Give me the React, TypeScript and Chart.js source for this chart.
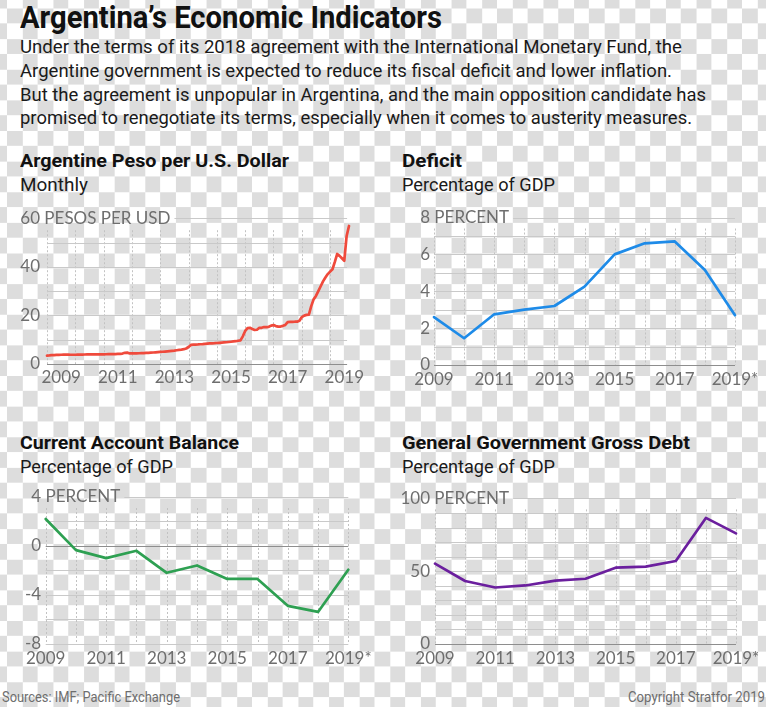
import React, { useEffect, useLayoutEffect, useRef } from 'react';
import { Chart, registerables } from 'chart.js';

Chart.register(...registerables);

// ---------- DATA ----------
const pesoStartYear = 2009;
// Monthly ARS per USD, Jan 2009 .. Sep 2019
const pesoPerUsd = [
  3.45, 3.52, 3.64, 3.69, 3.72, 3.77, 3.81, 3.84, 3.84, 3.82, 3.81, 3.8,
  3.81, 3.86, 3.87, 3.88, 3.91, 3.93, 3.93, 3.94, 3.95, 3.96, 3.97, 3.98,
  3.98, 4.01, 4.04, 4.07, 4.09, 4.1, 4.13, 4.18, 4.3, 4.6, 4.7, 4.35,
  4.35, 4.36, 4.38, 4.42, 4.46, 4.51, 4.56, 4.61, 4.67, 4.73, 4.8, 4.88,
  4.95, 5.03, 5.11, 5.18, 5.27, 5.38, 5.51, 5.67, 5.8, 5.91, 6.09, 6.38,
  7.0, 7.85, 7.95, 8.0, 8.05, 8.13, 8.17, 8.3, 8.42, 8.48, 8.52, 8.56,
  8.64, 8.71, 8.79, 8.87, 8.95, 9.05, 9.17, 9.28, 9.38, 9.55, 9.7, 11.4,
  13.6, 14.8, 14.9, 14.4, 14.0, 14.1, 14.9, 14.9, 15.2, 15.2, 15.3, 15.8,
  16.0, 15.6, 15.4, 15.4, 15.7, 16.1, 17.2, 17.3, 17.3, 17.4, 17.4, 17.8,
  19.3, 19.9, 20.2, 20.3, 23.8, 26.6, 28.0, 30.0, 32.0, 34.0, 35.6, 37.0,
  38.0, 39.0, 42.0, 45.3, 44.5, 43.5, 42.5, 52.7, 56.8,
];
const pesoGridValues = [0, 10, 20, 30, 40, 50, 60];
const pesoTickLabels = [0, 20, 40, 60];
const pesoUnit = 'PESOS PER USD';
const pesoYearLines = [2009, 2010, 2011, 2012, 2013, 2014, 2015, 2016, 2017, 2018, 2019];
const pesoXLabelYears = [2009, 2011, 2013, 2015, 2017, 2019];

const years = [2009, 2010, 2011, 2012, 2013, 2014, 2015, 2016, 2017, 2018, 2019];
const annualTickYears = [2009, 2011, 2013, 2015, 2017, 2019];
const annualTickLabels = ['2009', '2011', '2013', '2015', '2017', '2019*'];

const deficitPct = [2.6, 1.45, 2.75, 3.0, 3.2, 4.25, 6.0, 6.6, 6.7, 5.15, 2.7];
const deficitGridValues = [0, 1, 2, 3, 4, 5, 6, 7, 8];
const deficitTickLabels = [0, 2, 4, 6, 8];

const currentAccountPct = [2.2, -0.35, -1.0, -0.4, -2.2, -1.6, -2.7, -2.7, -4.9, -5.4, -1.95];
const caGridValues = [-8, -6, -4, -2, 0, 2, 4];
const caTickLabels = [-8, -4, 0, 4];

const grossDebtPct = [55.2, 43.3, 38.8, 40.2, 43.5, 44.8, 52.4, 53.1, 57.0, 86.6, 76.0];
const debtGridValues = [0, 10, 20, 30, 40, 50, 60, 70, 80, 90, 100];
const debtTickLabels = [0, 50, 100];
const percentUnit = 'PERCENT';

// ---------- PLUGIN ----------
const gridPlugin = {
  id: 'customGrid',
  beforeDatasetsDraw(chart: any, _args: any, o: any) {
    const { ctx, chartArea: a } = chart;
    const xs = chart.scales.x;
    const ys = chart.scales.y;
    ctx.save();
    ctx.font = '17px Lato, "Open Sans", sans-serif';
    const topVal = o.grid[o.grid.length - 1];
    const botVal = o.grid[0];
    const labelRight = a.left - o.labelGap;
    const numW = ctx.measureText(String(topVal)).width;
    const fullW = ctx.measureText(String(topVal) + ' ' + o.unit).width;
    const topTextEnd = labelRight - numW + fullW;
    const hRight = xs.getPixelForValue(o.hRight);

    // vertical dotted lines
    ctx.strokeStyle = '#c2c2c2';
    ctx.lineWidth = 1;
    ctx.setLineDash([2, 2]);
    const vTop = ys.getPixelForValue(topVal) + o.vTopGap;
    const vBot = ys.getPixelForValue(botVal);
    for (const yr of o.vLines) {
      const px = Math.round(xs.getPixelForValue(yr)) + 0.5;
      ctx.beginPath();
      ctx.moveTo(px, vTop);
      ctx.lineTo(px, vBot);
      ctx.stroke();
    }
    ctx.setLineDash([]);

    // horizontal lines
    for (const v of o.grid) {
      const py = Math.round(ys.getPixelForValue(v)) + 0.5;
      const x0 = v === topVal ? topTextEnd + 4 : a.left;
      ctx.strokeStyle = v === o.zero ? '#8e8e8e' : '#c9c9c9';
      ctx.beginPath();
      ctx.moveTo(x0, py);
      ctx.lineTo(hRight, py);
      ctx.stroke();
    }

    // y labels
    ctx.fillStyle = '#6e6e6e';
    ctx.textBaseline = 'middle';
    for (const v of o.yLabels) {
      const py = ys.getPixelForValue(v);
      ctx.textAlign = 'right';
      ctx.fillText(String(v), labelRight, py);
      if (v === topVal) {
        ctx.textAlign = 'left';
        ctx.fillText(' ' + o.unit, labelRight, py);
      }
    }

    // x labels
    ctx.textAlign = 'center';
    for (let i = 0; i < o.xVals.length; i++) {
      ctx.fillText(o.xTexts[i], xs.getPixelForValue(o.xVals[i]), a.bottom + o.xLabelGap);
    }
    ctx.restore();
  },
};

type LCProps = {
  left: number; top: number; width: number; height: number;
  padding: { left: number; right: number; top: number; bottom: number };
  points: { x: number; y: number }[];
  color: string;
  xMin: number; xMax: number; yMin: number; yMax: number;
  grid: number[]; yLabels: number[]; unit: string; zero: number;
  vLines: number[]; xVals: number[]; xTexts: string[];
  hRight: number; labelGap: number; vTopGap: number; xLabelGap: number;
};

function LineChart(p: LCProps) {
  const ref = useRef<HTMLCanvasElement>(null);
  useEffect(() => {
    const chart = new Chart(ref.current!, {
      type: 'line',
      data: {
        datasets: [
          {
            data: p.points,
            borderColor: p.color,
            borderWidth: 2.7,
            pointRadius: 0,
            tension: 0,
            fill: false,
            borderJoinStyle: 'round',
            borderCapStyle: 'round',
            clip: false as any,
          } as any,
        ],
      },
      options: {
        animation: false,
        responsive: false,
        maintainAspectRatio: false,
        layout: { padding: p.padding },
        plugins: {
          legend: { display: false },
          tooltip: { enabled: false },
          customGrid: {
            grid: p.grid, yLabels: p.yLabels, unit: p.unit, zero: p.zero,
            vLines: p.vLines, xVals: p.xVals, xTexts: p.xTexts,
            hRight: p.hRight, labelGap: p.labelGap, vTopGap: p.vTopGap, xLabelGap: p.xLabelGap,
          },
        } as any,
        scales: {
          x: { type: 'linear', min: p.xMin, max: p.xMax, display: false },
          y: { type: 'linear', min: p.yMin, max: p.yMax, display: false },
        },
      },
      plugins: [gridPlugin as any],
    });
    return () => chart.destroy();
  }, []);
  return (
    <canvas
      ref={ref}
      width={p.width}
      height={p.height}
      style={{ position: 'absolute', left: p.left, top: p.top, width: p.width, height: p.height }}
    />
  );
}

function FitText(props: {
  text: string; x: number; y: number; w: number; size: number;
  weight?: number; color?: string; family?: string;
}) {
  const ref = useRef<HTMLSpanElement>(null);
  useLayoutEffect(() => {
    const el = ref.current!;
    el.style.transform = 'none';
    const nat = el.getBoundingClientRect().width;
    if (nat > 0) el.style.transform = `scaleX(${props.w / nat})`;
  }, [props.text, props.w]);
  return (
    <span
      ref={ref}
      style={{
        position: 'absolute',
        left: props.x,
        top: props.y,
        fontSize: props.size,
        fontWeight: props.weight ?? 400,
        color: props.color ?? '#111',
        fontFamily: props.family ?? 'Roboto, "Noto Sans", sans-serif',
        lineHeight: 1,
        whiteSpace: 'nowrap',
        transformOrigin: '0 0',
        display: 'inline-block',
      }}
    >
      {props.text}
    </span>
  );
}

const pesoPoints = pesoPerUsd.map((v, i) => ({ x: pesoStartYear + i / 12, y: v }));
const deficitPoints = deficitPct.map((v, i) => ({ x: years[i], y: v }));
const caPoints = currentAccountPct.map((v, i) => ({ x: years[i], y: v }));
const debtPoints = grossDebtPct.map((v, i) => ({ x: years[i], y: v }));

export default function App() {
  return (
    <div
      style={{
        position: 'absolute',
        left: 0,
        top: 0,
        width: 766,
        height: 707,
        overflow: 'hidden',
        backgroundColor: '#ffffff',
        backgroundImage:
          'conic-gradient(#dddddd 25%, #ffffff 0 50%, #dddddd 0 75%, #ffffff 0)',
        backgroundSize: '30.64px 30.64px',
        backgroundPosition: '7px -7.3px',
      }}
    >
      <FitText text="Argentina’s Economic Indicators" x={20} y={1} w={422} size={32} weight={700} color="#111" />
      <FitText text="Under the terms of its 2018 agreement with the International Monetary Fund, the" x={20} y={37} w={662} size={19} color="#1a1a1a" />
      <FitText text="Argentine government is expected to reduce its fiscal deficit and lower inflation." x={20} y={61} w={652} size={19} color="#1a1a1a" />
      <FitText text="But the agreement is unpopular in Argentina, and the main opposition candidate has" x={20} y={85} w={686} size={19} color="#1a1a1a" />
      <FitText text="promised to renegotiate its terms, especially when it comes to austerity measures." x={20} y={108} w={672} size={19} color="#1a1a1a" />

      <FitText text="Argentine Peso per U.S. Dollar" x={20} y={151} w={269} size={19} weight={700} />
      <FitText text="Monthly" x={20} y={176} w={68} size={18} color="#1a1a1a" />
      <FitText text="Deficit" x={402} y={151} w={60} size={19} weight={700} />
      <FitText text="Percentage of GDP" x={402} y={176} w={153} size={18} color="#1a1a1a" />
      <FitText text="Current Account Balance" x={20} y={433} w={219} size={19} weight={700} />
      <FitText text="Percentage of GDP" x={20} y={458} w={153} size={18} color="#1a1a1a" />
      <FitText text="General Government Gross Debt" x={402} y={433} w={288} size={19} weight={700} />
      <FitText text="Percentage of GDP" x={402} y={458} w={153} size={18} color="#1a1a1a" />

      <LineChart
        left={0} top={200} width={383} height={200}
        padding={{ left: 47, right: 34, top: 18.2, bottom: 36 }}
        points={pesoPoints} color="#ef4a3c"
        xMin={2009} xMax={2019.667} yMin={0} yMax={60}
        grid={pesoGridValues} yLabels={pesoTickLabels} unit={pesoUnit} zero={0}
        vLines={pesoYearLines}
        xVals={pesoXLabelYears.map((y) => y + 0.5)}
        xTexts={pesoXLabelYears.map((y) => String(y))}
        hRight={2019.6} labelGap={7} vTopGap={12} xLabelGap={14}
      />
      <LineChart
        left={383} top={200} width={383} height={200}
        padding={{ left: 51, right: 31, top: 17.5, bottom: 35 }}
        points={deficitPoints} color="#1e8be8"
        xMin={2009} xMax={2019} yMin={0} yMax={8}
        grid={deficitGridValues} yLabels={deficitTickLabels} unit={percentUnit} zero={0}
        vLines={years} xVals={annualTickYears} xTexts={annualTickLabels}
        hRight={2019} labelGap={4} vTopGap={11} xLabelGap={15}
      />
      <LineChart
        left={0} top={480} width={383} height={200}
        padding={{ left: 45.7, right: 34.7, top: 17, bottom: 36.3 }}
        points={caPoints} color="#2ea052"
        xMin={2009} xMax={2019} yMin={-8} yMax={4}
        grid={caGridValues} yLabels={caTickLabels} unit={percentUnit} zero={0}
        vLines={years} xVals={annualTickYears} xTexts={annualTickLabels}
        hRight={2019} labelGap={4.5} vTopGap={11} xLabelGap={15}
      />
      <LineChart
        left={383} top={480} width={383} height={200}
        padding={{ left: 52, right: 30, top: 18.4, bottom: 36 }}
        points={debtPoints} color="#6b1f9e"
        xMin={2009} xMax={2019} yMin={0} yMax={100}
        grid={debtGridValues} yLabels={debtTickLabels} unit={percentUnit} zero={0}
        vLines={years} xVals={annualTickYears} xTexts={annualTickLabels}
        hRight={2019} labelGap={5} vTopGap={11} xLabelGap={15}
      />

      <FitText text="Sources: IMF; Pacific Exchange" x={2} y={690} w={178} size={15} color="#6e6e6e" />
      <FitText text="Copyright Stratfor 2019" x={628} y={690} w={137} size={15} color="#6e6e6e" />
    </div>
  );
}
